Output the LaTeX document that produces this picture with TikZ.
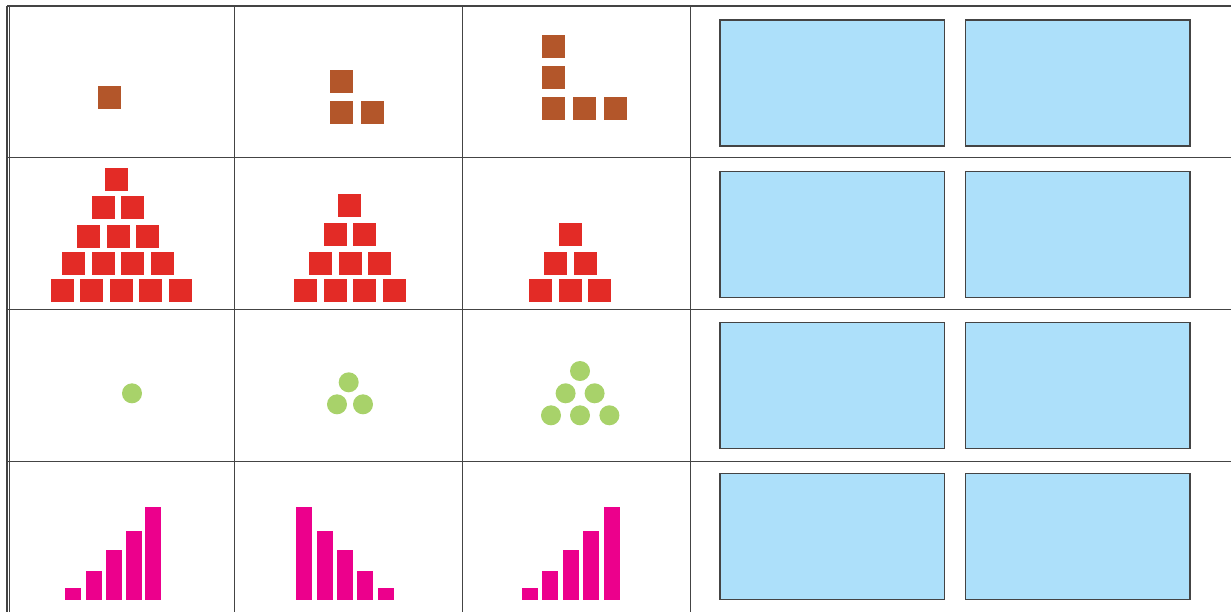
\documentclass[tikz,border=0pt]{standalone}
\definecolor{brick}{HTML}{B3562A}
\definecolor{tomato}{HTML}{E32B26}
\definecolor{leaf}{HTML}{A8D26A}
\definecolor{berry}{HTML}{EC008C}
\definecolor{sky}{HTML}{ADE0FA}
\definecolor{rule}{HTML}{444444}
\begin{document}
\begin{tikzpicture}[x=.5pt,y=-.5pt,cell/.style={rule,line width=.8pt},tile/.style={fill=#1}]
\useasboundingbox (0,0) rectangle (1231,612);
% table rules
\foreach \y in {6,157.5,309.5,461.5}{\draw[cell] (7,\y)--(1231,\y);}
\foreach \x in {7,9.5,234.5,462.5,690.5}{\draw[cell] (\x,6)--(\x,612);}
% row 1: brick squares
\fill[brick] (98,86) rectangle ++(23,23);
\foreach \x/\y in {330/70,330/101,361/101}{\fill[brick] (\x,\y) rectangle ++(23,23);}
\foreach \x/\y in {542/35,542/66,542/97,573/97,604/97}{\fill[brick] (\x,\y) rectangle ++(23,23);}
% row 2: red stacks
\foreach \y/\xs in {168/{105},196/{92,121},225/{77,107,136},252/{62,92,121,151},279/{51,80,110,139,169}}{
  \foreach \x in \xs{\fill[tomato] (\x,\y) rectangle ++(23,23);}}
\foreach \y/\xs in {194/{338},223/{324,353},252/{309,339,368},279/{294,324,353,383}}{
  \foreach \x in \xs{\fill[tomato] (\x,\y) rectangle ++(23,23);}}
\foreach \y/\xs in {223/{559},252/{544,574},279/{529,559,588}}{
  \foreach \x in \xs{\fill[tomato] (\x,\y) rectangle ++(23,23);}}
% row 3: green dots
\fill[leaf] (132,393.3) circle[radius=5pt];
\foreach \x/\y in {348.7/382.3,337/404.3,363/404.3}{\fill[leaf] (\x,\y) circle[radius=5pt];}
\foreach \x/\y in {580/371,565.6/393.3,594.6/393.3,551/415.3,580/415.3,609.4/415.3}{\fill[leaf] (\x,\y) circle[radius=5pt];}
% row 4: bars
\foreach \x/\h in {65/12,86/29,106/50,126/69,145/93}{\fill[berry] (\x,600) rectangle ++(16,-\h);}
\foreach \x/\h in {296/93,317/69,337/50,357/29,378/12}{\fill[berry] (\x,600) rectangle ++(16,-\h);}
\foreach \x/\h in {522/12,542/29,563/50,583/69,604/93}{\fill[berry] (\x,600) rectangle ++(16,-\h);}
% answer boxes
\foreach \y in {20,171.5,322.5,473.5}{
  \draw[rule,fill=sky,line width=.6pt] (720,\y) rectangle (944.5,\y+126);
  \draw[rule,fill=sky,line width=.6pt] (965.5,\y) rectangle (1190,\y+126);}
\end{tikzpicture}
\end{document}
